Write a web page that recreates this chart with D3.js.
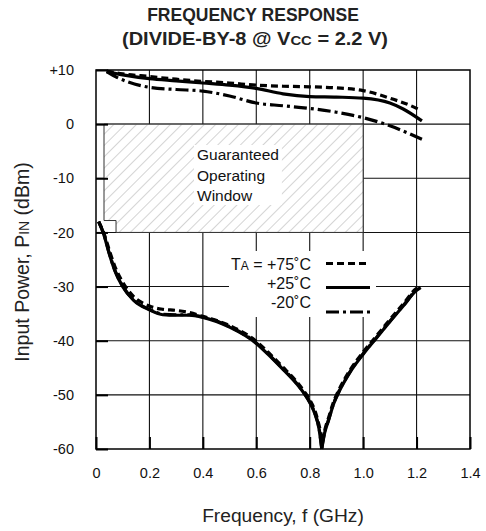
<!DOCTYPE html>
<html>
<head>
<meta charset="utf-8">
<script src="https://cdn.jsdelivr.net/npm/d3@7"></script>
<style>
  html, body { margin: 0; padding: 0; background: #fff; }
  svg { display: block; font-family: "Liberation Sans", Arial, sans-serif; }
</style>
</head>
<body>
<div id="chart"></div>
<script>
// Frequency response chart (divide-by-8 @ Vcc = 2.2 V)
// values: [frequency GHz, input power dBm]

const xTicks = [0, 0.2, 0.4, 0.6, 0.8, 1.0, 1.2, 1.4];
const yTicks = [10, 0, -10, -20, -30, -40, -50, -60];

// upper limit (max input power)
const upper75 = [[0.04, 9.8], [0.1, 9.3], [0.2, 8.8], [0.3, 8.3], [0.4, 7.9], [0.5, 7.6], [0.6, 7.2],
  [0.7, 7.0], [0.8, 6.9], [0.9, 6.7], [1.0, 6.2], [1.1, 4.8], [1.2, 2.9], [1.215, 2.5]];
const upper25 = [[0.04, 9.7], [0.1, 9.1], [0.2, 8.4], [0.3, 8.0], [0.4, 7.6], [0.5, 7.2], [0.6, 6.6],
  [0.7, 5.6], [0.8, 5.1], [0.9, 5.0], [1.0, 4.8], [1.1, 3.9], [1.15, 2.8], [1.22, 0.6]];
const upperM20 = [[0.04, 9.7], [0.08, 8.6], [0.12, 7.8], [0.2, 6.8], [0.3, 6.4], [0.4, 6.1], [0.5, 5.2],
  [0.6, 3.9], [0.7, 3.4], [0.8, 2.9], [0.9, 2.2], [1.0, 1.2], [1.1, -0.3], [1.22, -2.8]];

// lower limit (min input power)
const lower75 = [[0.01, -18], [0.03, -20.2], [0.05, -23.3], [0.07, -26.2], [0.1, -29.2], [0.14, -31.8],
  [0.2, -33.6], [0.25, -34.2], [0.3, -34.4], [0.35, -34.8], [0.4, -35.5], [0.5, -37.2], [0.6, -40.1],
  [0.65, -42.4], [0.7, -44.9], [0.75, -47.5], [0.78, -49.4], [0.8, -50.9], [0.82, -53], [0.835, -55.6],
  [0.848, -58.5], [0.858, -56.2], [0.87, -54.3], [0.89, -51.2], [0.91, -49], [0.95, -45.5], [1.0, -42.1],
  [1.05, -39.1], [1.1, -36.1], [1.15, -33.2], [1.2, -30.3], [1.215, -29.9]];
const lower25 = [[0.01, -18], [0.03, -20.5], [0.05, -24], [0.07, -27], [0.1, -30], [0.14, -32.5],
  [0.2, -34.3], [0.25, -35.2], [0.3, -35.3], [0.35, -35.3], [0.4, -35.7], [0.5, -37.5], [0.6, -40.5],
  [0.65, -42.8], [0.7, -45.3], [0.75, -47.9], [0.78, -49.8], [0.8, -51.4], [0.82, -53.6], [0.835, -56.3],
  [0.845, -60], [0.855, -57.2], [0.87, -54.8], [0.89, -51.6], [0.91, -49.4], [0.95, -45.9], [1.0, -42.5],
  [1.05, -39.5], [1.1, -36.5], [1.15, -33.6], [1.2, -30.7], [1.215, -30.2]];
const lowerM20 = [[0.01, -18], [0.03, -20.4], [0.05, -23.9], [0.07, -26.9], [0.1, -29.9], [0.14, -32.4],
  [0.2, -34.2], [0.25, -35.1], [0.3, -35.2], [0.35, -35.2], [0.4, -35.6], [0.5, -37.4], [0.6, -40.4],
  [0.65, -42.7], [0.7, -45.2], [0.75, -47.8], [0.78, -49.7], [0.8, -51.3], [0.82, -53.5], [0.835, -56.2],
  [0.845, -59.8], [0.855, -57.1], [0.87, -54.7], [0.89, -51.5], [0.91, -49.3], [0.95, -45.8], [1.0, -42.4],
  [1.05, -39.4], [1.1, -36.4], [1.15, -33.5], [1.2, -30.6], [1.215, -30.1]];

// guaranteed operating window outline (with the small notch at bottom-left)
const windowPoly = [[0.03, 0], [1.0, 0], [1.0, -20], [0.075, -20], [0.075, -17.8], [0.03, -17.8]];
const windowLines = ['Guaranteed', 'Operating', 'Window'];

const series = [
  { label: '+75\u02DAC', upper: upper75, lower: lower75, dash: '7,4' },
  { label: '+25\u02DAC', upper: upper25, lower: lower25, dash: null },
  { label: '-20\u02DAC', upper: upperM20, lower: lowerM20, dash: '13,4,3,4' },
];

const width = 486, height = 531;
const plot = { left: 96, right: 470, top: 70, bottom: 449 };

const svg = d3.select('#chart').append('svg')
  .attr('width', width)
  .attr('height', height);

const x = d3.scaleLinear().domain([0, 1.4]).range([plot.left, plot.right]);
const y = d3.scaleLinear().domain([-60, 10]).range([plot.bottom, plot.top]);

// hatch pattern for the operating window
const defs = svg.append('defs');
defs.append('pattern')
  .attr('id', 'hatch')
  .attr('patternUnits', 'userSpaceOnUse')
  .attr('width', 8)
  .attr('height', 8)
  .attr('patternTransform', 'rotate(45)')
  .append('line')
  .attr('x1', 0).attr('y1', 0)
  .attr('x2', 0).attr('y2', 8)
  .attr('stroke', '#a0a0a0')
  .attr('stroke-width', 0.9);

// grid
const grid = svg.append('g').attr('stroke', '#111').attr('stroke-width', 1.1);
grid.selectAll('.vgrid')
  .data(xTicks.slice(1, -1))
  .join('line')
  .attr('x1', (d) => x(d)).attr('x2', (d) => x(d))
  .attr('y1', plot.top).attr('y2', plot.bottom);
grid.selectAll('.hgrid')
  .data(yTicks.slice(1, -1))
  .join('line')
  .attr('x1', plot.left).attr('x2', plot.right)
  .attr('y1', (d) => y(d)).attr('y2', (d) => y(d));

// white box behind the legend
svg.append('rect')
  .attr('x', 229).attr('y', 251)
  .attr('width', 147).attr('height', 66)
  .attr('fill', '#fff');

// guaranteed operating window
const windowPath = 'M' + windowPoly.map((p) => [x(p[0]), y(p[1])].join(',')).join('L') + 'Z';
svg.append('path')
  .attr('d', windowPath)
  .attr('fill', '#fff');
svg.append('path')
  .attr('d', windowPath)
  .attr('fill', 'url(#hatch)')
  .attr('stroke', '#333')
  .attr('stroke-width', 1);

const windowText = svg.append('text')
  .attr('font-size', 15.5)
  .attr('fill', '#111');
windowLines.forEach((t, i) => {
  windowText.append('tspan')
    .attr('x', 197)
    .attr('y', 160 + i * 20.5)
    .text(t);
});
// blank the hatch behind the text
windowText.each(function () {
  const bb = this.getBBox();
  svg.insert('rect', 'text')
    .attr('x', bb.x - 3).attr('y', bb.y - 1)
    .attr('width', bb.width + 6).attr('height', bb.height + 2)
    .attr('fill', '#fff');
});

// curves
const line = d3.line()
  .x((d) => x(d[0]))
  .y((d) => y(d[1]))
  .curve(d3.curveMonotoneX);

// split the lower curve at its notch so the bottom stays sharp
function branches(data) {
  const i = d3.minIndex(data, (d) => d[1]);
  return [data.slice(0, i + 1), data.slice(i)];
}

const curves = svg.append('g')
  .attr('fill', 'none')
  .attr('stroke', '#000')
  .attr('stroke-width', 3.2);

series.forEach((s) => {
  [s.upper].concat(branches(s.lower)).forEach((part) => {
    curves.append('path')
      .attr('d', line(part))
      .attr('stroke-dasharray', s.dash);
  });
});

// legend
const legend = svg.append('g').attr('font-size', 16).attr('fill', '#111');
const legendRows = [
  { ty: 269.5, ly: 263.5 },
  { ty: 289, ly: 287.5 },
  { ty: 308, ly: 312 },
];
series.forEach((s, i) => {
  const t = legend.append('text')
    .attr('x', 311)
    .attr('y', legendRows[i].ty)
    .attr('text-anchor', 'end');
  if (i === 0) {
    t.append('tspan').text('T');
    t.append('tspan').attr('font-size', 12).text('A');
    t.append('tspan').text(' = ' + s.label);
  } else {
    t.text(s.label);
  }
  legend.append('line')
    .attr('x1', 326).attr('x2', 370)
    .attr('y1', legendRows[i].ly).attr('y2', legendRows[i].ly)
    .attr('stroke', '#000')
    .attr('stroke-width', 3.2)
    .attr('stroke-dasharray', s.dash);
});

// axes: short inward ticks + labels
const yAxis = d3.axisLeft(y)
  .tickValues(yTicks)
  .tickSize(-12)
  .tickPadding(22)
  .tickFormat((d) => (d > 0 ? '+' + d : String(d)));
const xAxis = d3.axisBottom(x)
  .tickValues(xTicks)
  .tickSize(-12)
  .tickPadding(19)
  .tickFormat((d) => (d === 0 ? '0' : d3.format('.1f')(d)));

function styleAxis(g) {
  g.select('.domain').remove();
  g.selectAll('line').attr('stroke', '#000').attr('stroke-width', 2);
  g.selectAll('text')
    .attr('font-size', 14.5)
    .attr('fill', '#111')
    .attr('font-family', '"Liberation Sans", Arial, sans-serif');
}

svg.append('g')
  .attr('transform', `translate(${plot.left},0)`)
  .call(yAxis)
  .call(styleAxis);

svg.append('g')
  .attr('transform', `translate(0,${plot.bottom})`)
  .call(xAxis)
  .call(styleAxis);

// plot frame
svg.append('rect')
  .attr('x', plot.left).attr('y', plot.top)
  .attr('width', plot.right - plot.left)
  .attr('height', plot.bottom - plot.top)
  .attr('fill', 'none')
  .attr('stroke', '#000')
  .attr('stroke-width', 1.5);

// titles
const title = svg.append('g')
  .attr('font-weight', 'bold')
  .attr('font-size', 17.5)
  .attr('fill', '#222')
  .attr('text-anchor', 'middle');
title.append('text')
  .attr('x', 253).attr('y', 20.5)
  .text('FREQUENCY RESPONSE');
const sub = title.append('text')
  .attr('x', 255).attr('y', 45)
  .attr('textLength', 266)
  .attr('lengthAdjust', 'spacingAndGlyphs');
sub.append('tspan').text('(DIVIDE-BY-8 @ V');
sub.append('tspan').attr('font-size', 13).text('CC');
sub.append('tspan').text(' = 2.2 V)');

svg.append('text')
  .attr('x', 283).attr('y', 522)
  .attr('text-anchor', 'middle')
  .attr('font-size', 19.2)
  .attr('fill', '#222')
  .text('Frequency, f (GHz)');

const yLabel = svg.append('text')
  .attr('transform', 'translate(29,262) rotate(-90)')
  .attr('text-anchor', 'middle')
  .attr('font-size', 19.5)
  .attr('fill', '#222');
yLabel.append('tspan').text('Input Power, P');
yLabel.append('tspan').attr('font-size', 14).text('IN');
yLabel.append('tspan').text(' (dBm)');
</script>
</body>
</html>
